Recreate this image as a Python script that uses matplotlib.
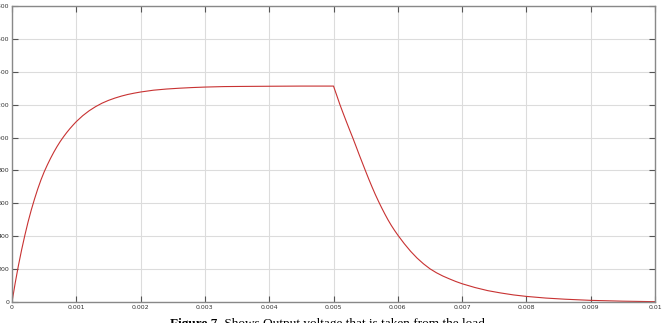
import matplotlib
matplotlib.use("Agg")
import matplotlib.pyplot as plt

# Output voltage
time_s = [0, 0.00005, 0.0001, 0.00015, 0.0002, 0.00025, 0.0003, 0.00035, 0.0004,
          0.00045, 0.0005, 0.00055, 0.0006, 0.00065, 0.0007, 0.00075, 0.0008,
          0.00085, 0.0009, 0.00095, 0.001, 0.0011, 0.0012, 0.0013, 0.0014,
          0.0015, 0.0016, 0.0017, 0.0018, 0.0019, 0.002, 0.0022, 0.0024,
          0.0026, 0.0028, 0.003, 0.0033, 0.0036, 0.004, 0.0045, 0.005,
          0.00505, 0.0051, 0.00515, 0.0052, 0.00525, 0.0053, 0.00535, 0.0054,
          0.00545, 0.0055, 0.00555, 0.0056, 0.00565, 0.0057, 0.00575, 0.0058,
          0.00585, 0.0059, 0.00595, 0.006, 0.0061, 0.0062, 0.0063, 0.0064,
          0.0065, 0.0066, 0.0067, 0.0068, 0.0069, 0.007, 0.0072, 0.0074,
          0.0076, 0.0078, 0.008, 0.0083, 0.0086, 0.009, 0.0095, 0.01]
voltage = [0, 116, 222, 318, 406, 487, 560, 626, 687,
           742, 791, 834, 874, 911, 945, 976, 1004,
           1030, 1054, 1076, 1097, 1133, 1163, 1188, 1209,
           1226, 1240, 1252, 1262, 1270, 1277, 1288, 1295,
           1300, 1304, 1307, 1310, 1311, 1312, 1313, 1313,
           1257, 1200, 1148, 1097, 1047, 998, 947, 895,
           845, 795, 746, 699, 654, 612, 572, 534,
           498, 465, 435, 407, 355, 308, 267, 232,
           202, 178, 158, 141, 125, 111, 88, 69,
           55, 43, 34, 24, 17, 10, 5, 2]

x_ticks = [0, 0.001, 0.002, 0.003, 0.004, 0.005, 0.006, 0.007, 0.008, 0.009, 0.01]
x_tick_labels = ["0", "0.001", "0.002", "0.003", "0.004", "0.005", "0.006",
                 "0.007", "0.008", "0.009", "0.01"]
y_ticks = [0, 200, 400, 600, 800, 1000, 1200, 1400, 1600, 1800]
y_tick_labels = ["0", "200", "400", "600", "800", "1000", "1200", "1400", "1600", "1800"]
caption_bold = "Figure 7."
caption_rest = " Shows Output voltage that is taken from the load"

W, H = 666, 323
fig = plt.figure(figsize=(W / 100, H / 100), dpi=100)
ax = fig.add_axes([12 / W, 1 - 302 / H, (655 - 12) / W, (302 - 6) / H])

ax.plot(time_s, voltage, color="#c83232", lw=0.8)
ax.set_xlim(0, 0.01)
ax.set_ylim(0, 1800)
ax.set_xticks(x_ticks)
ax.set_xticklabels(x_tick_labels)
ax.set_yticks(y_ticks)
ax.set_yticklabels(y_tick_labels)
ax.grid(True, color="#dcdcdc", lw=0.8)
ax.set_axisbelow(True)
ax.tick_params(direction="in", top=True, right=True, length=4, width=0.8,
               color="#555555", labelsize=4.5, labelcolor="#333333", pad=2)
for s in ax.spines.values():
    s.set_color("#888888")
    s.set_linewidth(1.0)

t1 = fig.text(170 / W, 1 - 327 / H, caption_bold, fontfamily="Liberation Serif",
              fontweight="bold", fontsize=9.5, ha="left", va="baseline")
fig.canvas.draw()
bb = t1.get_window_extent()
fig.text(bb.x1 / W, 1 - 327 / H, caption_rest, fontfamily="Liberation Serif",
         fontsize=9.5, ha="left", va="baseline")

fig.savefig("out.png", dpi=100)
